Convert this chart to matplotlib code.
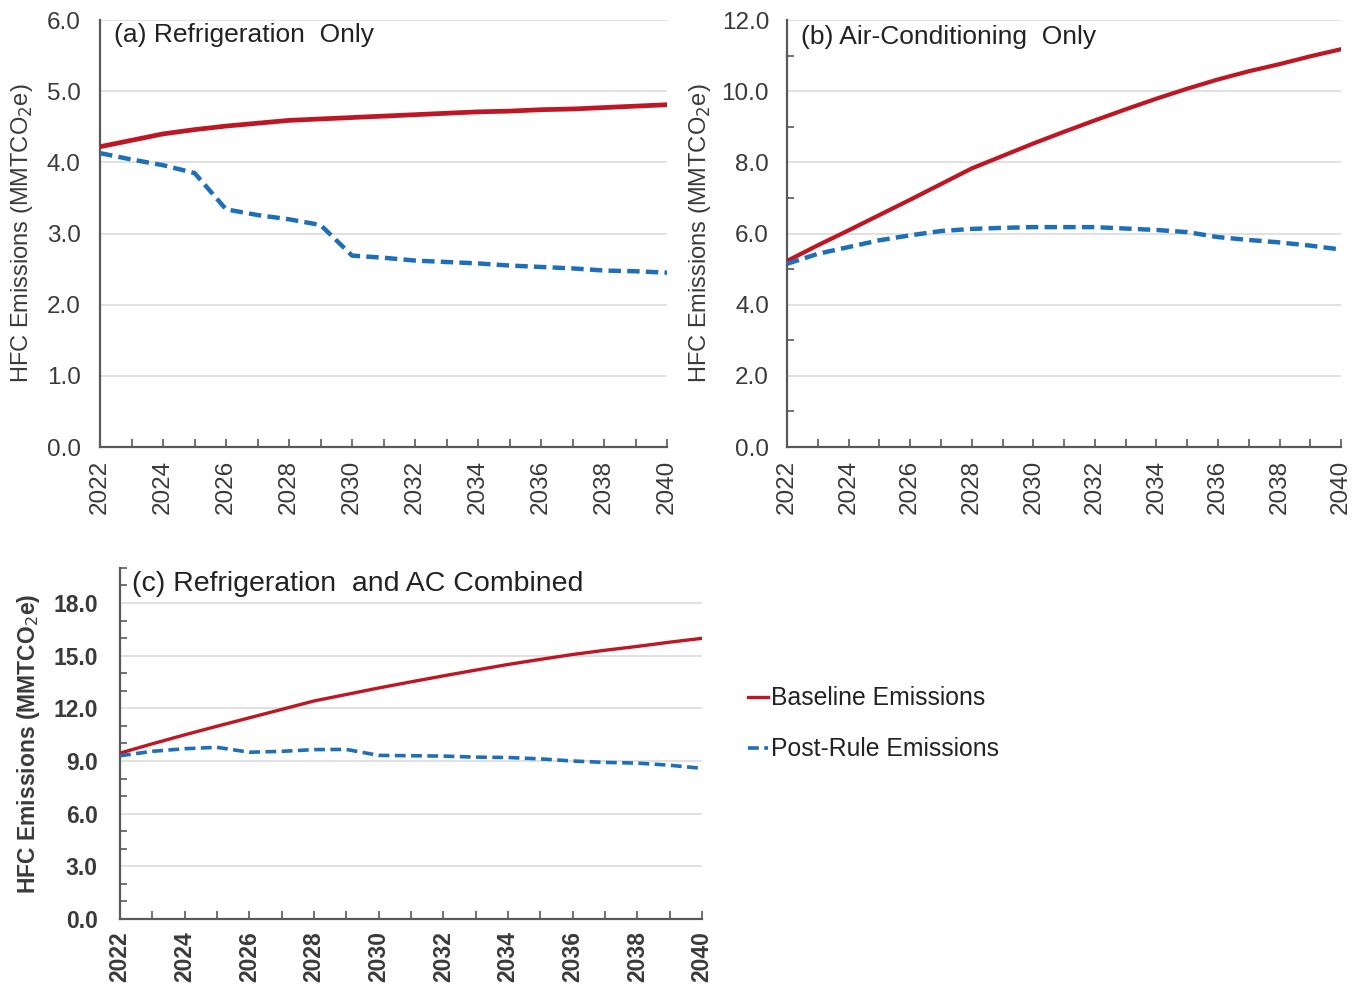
import matplotlib
matplotlib.use("Agg")
import matplotlib.pyplot as plt
from matplotlib.ticker import MultipleLocator, FixedLocator

years = list(range(2022, 2041))

# (a) Refrigeration only
ref_baseline = [4.22, 4.31, 4.40, 4.46, 4.51, 4.55, 4.59, 4.61, 4.63, 4.65, 4.67, 4.69, 4.71, 4.72, 4.74, 4.75, 4.77, 4.79, 4.81]
ref_postrule = [4.13, 4.04, 3.96, 3.85, 3.34, 3.26, 3.20, 3.12, 2.69, 2.66, 2.62, 2.60, 2.58, 2.55, 2.53, 2.51, 2.48, 2.47, 2.45]

# (b) Air-conditioning only
ac_baseline = [5.23, 5.67, 6.09, 6.52, 6.95, 7.39, 7.83, 8.18, 8.53, 8.86, 9.18, 9.49, 9.79, 10.07, 10.33, 10.56, 10.76, 10.98, 11.18]
ac_postrule = [5.15, 5.43, 5.62, 5.81, 5.95, 6.07, 6.13, 6.16, 6.18, 6.18, 6.18, 6.14, 6.10, 6.04, 5.90, 5.82, 5.75, 5.66, 5.55]

# (c) Combined
comb_baseline = [9.45, 9.98, 10.49, 10.98, 11.46, 11.94, 12.42, 12.79, 13.16, 13.51, 13.85, 14.18, 14.50, 14.79, 15.07, 15.31, 15.53, 15.77, 15.99]
comb_postrule = [9.30, 9.55, 9.70, 9.78, 9.50, 9.55, 9.65, 9.66, 9.32, 9.30, 9.28, 9.22, 9.20, 9.12, 9.00, 8.92, 8.88, 8.76, 8.58]

titles = ["(a) Refrigeration  Only", "(b) Air-Conditioning  Only", "(c) Refrigeration  and AC Combined"]
legend_labels = ["Baseline Emissions", "Post-Rule Emissions"]
ylabel = "HFC Emissions (MMTCO$_2$e)"

RED = "#BE1622"
BLUE = "#1F6FB8"
GRID = "#DCDCDC"
SPINE = "#595959"
TXT = "#3a3a3a"

plt.rcParams['font.family'] = ['Liberation Sans', 'DejaVu Sans']

fig = plt.figure(figsize=(13.65, 9.91), dpi=100)

def style_axes(ax, ymax, major, minor, fs, ypad, bold=False):
    ax.set_xlim(2022, 2040)
    ax.set_ylim(0, ymax)
    ax.yaxis.set_major_locator(MultipleLocator(major))
    if minor:
        ax.yaxis.set_minor_locator(MultipleLocator(minor))
    ax.xaxis.set_major_locator(FixedLocator(years[::2]))
    ax.xaxis.set_minor_locator(FixedLocator(years))
    ax.yaxis.set_major_formatter(matplotlib.ticker.FormatStrFormatter('%.1f'))
    ax.grid(axis='y', which='major', color=GRID, lw=1.2, zorder=0)
    for s in ['top', 'right']:
        ax.spines[s].set_visible(False)
    for s in ['left', 'bottom']:
        ax.spines[s].set_color(SPINE)
        ax.spines[s].set_linewidth(1.6)
    w = 'bold' if bold else 'normal'
    ax.tick_params(axis='x', which='both', direction='in', length=6, width=1.2, color=SPINE,
                   labelsize=fs, labelcolor=TXT, labelrotation=90, pad=9)
    ax.tick_params(axis='y', which='major', direction='in', length=0, labelsize=fs, labelcolor=TXT, pad=ypad)
    ax.tick_params(axis='y', which='minor', direction='in', length=5, width=1.2, color=SPINE)
    for lab in ax.get_xticklabels() + ax.get_yticklabels():
        lab.set_fontweight(w)

# Panel (a)
ax1 = fig.add_axes([0.0733, 0.5489, 0.4154, 0.4309])
ax1.plot(years, ref_baseline, color=RED, lw=3.4, solid_capstyle='butt', zorder=3)
ax1.plot(years, ref_postrule, color=BLUE, lw=3.2, dashes=(2.8, 1.4), zorder=3)
style_axes(ax1, 6.0, 1.0, None, 17.5, 14)
ax1.set_ylabel(ylabel, fontsize=17, color=TXT, labelpad=8)
ax1.text(0.025, 0.965, titles[0], transform=ax1.transAxes, fontsize=19, color='#222222',
         va='center', ha='left', fontweight='medium')

# Panel (b)
ax2 = fig.add_axes([0.5766, 0.5489, 0.4059, 0.4309])
ax2.plot(years, ac_baseline, color=RED, lw=3.0, zorder=3)
ax2.plot(years, ac_postrule, color=BLUE, lw=3.2, dashes=(2.8, 1.4), zorder=3)
style_axes(ax2, 12.0, 2.0, 1.0, 17.5, 13)
ax2.set_ylabel(ylabel, fontsize=17, color=TXT, labelpad=6)
ax2.text(0.025, 0.96, titles[1], transform=ax2.transAxes, fontsize=19, color='#222222',
         va='center', ha='left', fontweight='medium')

# Panel (c)
ax3 = fig.add_axes([0.0879, 0.0727, 0.4264, 0.3542])
l1, = ax3.plot(years, comb_baseline, color=RED, lw=2.4, zorder=3)
l2, = ax3.plot(years, comb_postrule, color=BLUE, lw=2.6, dashes=(3.0, 1.5), zorder=3)
style_axes(ax3, 20.0, 3.0, 1.0, 16.5, 16, bold=True)
ax3.set_ylabel(ylabel, fontsize=16.5, color=TXT, fontweight='bold', labelpad=8)
ax3.text(0.02, 0.955, titles[2], transform=ax3.transAxes, fontsize=20.5, color='#222222',
         va='center', ha='left')

leg = fig.legend([l1, l2], legend_labels, loc='upper left', bbox_to_anchor=(0.532, 0.330),
                 frameon=False, fontsize=17.8, handlelength=0.8, handletextpad=0.1,
                 labelspacing=1.1)
for t in leg.get_texts():
    t.set_color('#222222')

fig.savefig("out.png", dpi=100)
